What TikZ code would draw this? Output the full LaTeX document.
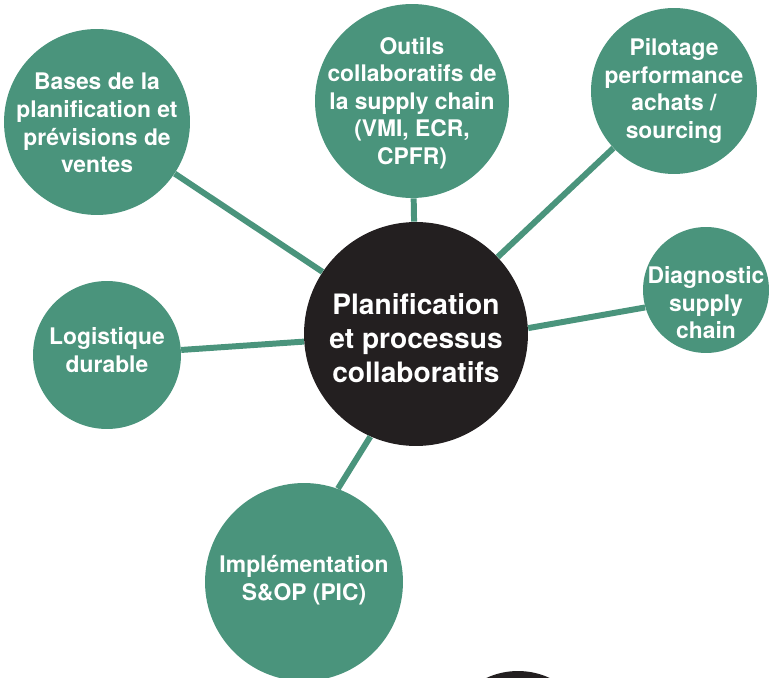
\documentclass[tikz,border=0pt]{standalone}
\usepackage{fontspec}
\setmainfont{TeX Gyre Heros}
\usepackage{tikz}
\usetikzlibrary{calc}
\definecolor{leafgreen}{RGB}{74,148,124}
\definecolor{hubblack}{RGB}{35,31,32}

\begin{document}
\begin{tikzpicture}[x=0.02cm, y=-0.02cm,
        leaf/.style={circle, fill=leafgreen, inner sep=0pt},
        hub/.style={circle, fill=hubblack, inner sep=0pt},
        leaftext/.style={text=white, align=center,
            font=\fontsize{13}{15.7}\selectfont\bfseries},
        hubtext/.style={text=white, align=center,
            font=\fontsize{16}{19.3}\selectfont\bfseries},
        link/.style={leafgreen, line width=3.4pt}]

        \useasboundingbox (0,0) rectangle (771,678);

        % define centres
        \coordinate (Hub_C) at (416,334);
        \coordinate (Bases_C) at (97,122);
        \coordinate (Outils_C) at (412,101);
        \coordinate (Pilot_C) at (674,91);
        \coordinate (Diag_C) at (706,290);
        \coordinate (Logi_C) at (107,355);
        \coordinate (Impl_C) at (304,582);

        % draw circles
        \node[hub, minimum size=4.48cm] (hub) at (Hub_C) {};
        \node[leaf, minimum size=3.72cm] (bases) at (Bases_C) {};
        \node[leaf, minimum size=3.88cm] (outils) at (Outils_C) {};
        \node[leaf, minimum size=3.32cm] (pilot) at (Pilot_C) {};
        \node[leaf, minimum size=2.52cm] (diag) at (Diag_C) {};
        \node[leaf, minimum size=2.96cm] (logi) at (Logi_C) {};
        \node[leaf, minimum size=3.96cm] (impl) at (Impl_C) {};

        % next hub, cut by the page
        \node[hub, minimum size=3cm] (next) at (518,746) {};

        % links
        \draw[link] (hub) -- (bases);
        \draw[link] (hub) -- (outils);
        \draw[link] (hub) -- (pilot);
        \draw[link] (hub.3) -- (diag.196);
        \draw[link] (hub) -- (logi);
        \draw[link] (hub.246) -- (impl.70);

        % texts
        \node[hubtext] (hub_txt) at ([shift={(0,4)}]Hub_C)
            {Planification\\et processus\\collaboratifs};
        \node[leaftext] (bases_txt) at ([shift={(0,1)}]Bases_C)
            {Bases de la\\planification et\\prévisions de\\ventes};
        \node[leaftext] (outils_txt) at ([shift={(0,2)}]Outils_C)
            {Outils\\collaboratifs de\\la supply chain\\(VMI, ECR,\\CPFR)};
        \node[leaftext] (pilot_txt) at (Pilot_C)
            {Pilotage\\performance\\achats /\\sourcing};
        \node[leaftext] (diag_txt) at ([shift={(0,13)}]Diag_C)
            {Diagnostic\\supply\\chain};
        \node[leaftext] (logi_txt) at ([shift={(0,-5)}]Logi_C)
            {Logistique\\durable};
        \node[leaftext] (impl_txt) at ([shift={(0,-2)}]Impl_C)
            {Implémentation\\S\&OP (PIC)};
    \end{tikzpicture}
\end{document}
